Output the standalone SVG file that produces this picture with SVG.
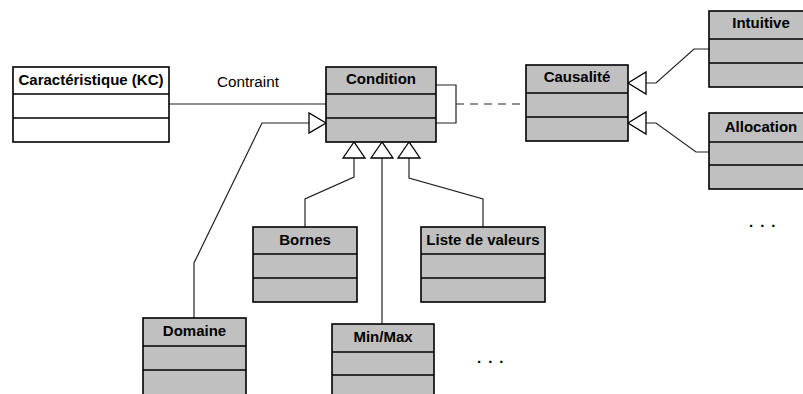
<svg xmlns="http://www.w3.org/2000/svg" width="803" height="394" viewBox="0 0 803 394">
<style>
.box{fill:#C0C0C0;stroke:#000;stroke-width:1.6}
.wbox{fill:#fff;stroke:#000;stroke-width:1.6}
.sep{stroke:#000;stroke-width:1.6}
.t{font-family:"Liberation Sans",Arial,sans-serif;font-weight:bold;font-size:15px;fill:#000;text-anchor:middle}
.lbl{font-family:"Liberation Sans",Arial,sans-serif;font-size:14px;fill:#000}
.dots{font-family:"Liberation Sans",Arial,sans-serif;font-weight:bold;font-size:15px;fill:#000;letter-spacing:7px}
.c{fill:none;stroke:#222;stroke-width:1.2}
.tri{fill:#fff;stroke:#000;stroke-width:1.3}
</style>
<rect width="803" height="394" fill="#fff"/>
<g id="connectors">
<polyline class="c" points="169,104 326,104"/>
<polyline class="c" points="436,85 456,85 456,123 436,123"/>
<line class="c" x1="456" y1="104" x2="526" y2="104" stroke-dasharray="8,6"/>
<polyline class="c" points="646,83 656,83 694,49 709,49"/>
<polygon class="tri" points="628,83 646,72 646,94"/>
<polyline class="c" points="646,123 656,123 696,152 709,152"/>
<polygon class="tri" points="628,123 646,112 646,134"/>
<polyline class="c" points="309,123 262,123 194,263 194,318"/>
<polygon class="tri" points="326,123 309,113 309,133"/>
<polyline class="c" points="354,158 354,177 305,199 305,227"/>
<polygon class="tri" points="354,142 343,158 365,158"/>
<polyline class="c" points="382,158 382,324"/>
<polygon class="tri" points="382,142 371,158 393,158"/>
<polyline class="c" points="409,158 409,178 483,199 483,227"/>
<polygon class="tri" points="409,142 398,158 420,158"/>
<text class="lbl" x="217" y="87" textLength="62" lengthAdjust="spacingAndGlyphs">Contraint</text>
</g>
<g id="kc">
<rect class="wbox" x="13" y="67" width="156" height="75"/>
<line class="sep" x1="13" y1="94" x2="169" y2="94"/>
<line class="sep" x1="13" y1="118" x2="169" y2="118"/>
<text class="t" x="91" y="85">Caractéristique (KC)</text>
</g>
<g id="condition">
<rect class="box" x="326" y="67" width="110" height="75"/>
<line class="sep" x1="326" y1="94" x2="436" y2="94"/>
<line class="sep" x1="326" y1="118" x2="436" y2="118"/>
<text class="t" x="381" y="84">Condition</text>
</g>
<g id="causalite">
<rect class="box" x="526" y="65" width="102" height="76"/>
<line class="sep" x1="526" y1="93" x2="628" y2="93"/>
<line class="sep" x1="526" y1="117" x2="628" y2="117"/>
<text class="t" x="577" y="82">Causalité</text>
</g>
<g id="intuitive">
<rect class="box" x="709" y="11" width="104" height="76"/>
<line class="sep" x1="709" y1="39" x2="813" y2="39"/>
<line class="sep" x1="709" y1="63" x2="813" y2="63"/>
<text class="t" x="761" y="28">Intuitive</text>
</g>
<g id="allocation">
<rect class="box" x="709" y="113" width="104" height="76"/>
<line class="sep" x1="709" y1="142" x2="813" y2="142"/>
<line class="sep" x1="709" y1="165" x2="813" y2="165"/>
<text class="t" x="761" y="132">Allocation</text>
</g>
<g id="bornes">
<rect class="box" x="253" y="227" width="104" height="75"/>
<line class="sep" x1="253" y1="254" x2="357" y2="254"/>
<line class="sep" x1="253" y1="278" x2="357" y2="278"/>
<text class="t" x="305" y="245">Bornes</text>
</g>
<g id="liste">
<rect class="box" x="421" y="227" width="124" height="75"/>
<line class="sep" x1="421" y1="254" x2="545" y2="254"/>
<line class="sep" x1="421" y1="278" x2="545" y2="278"/>
<text class="t" x="483" y="245">Liste de valeurs</text>
</g>
<g id="domaine">
<rect class="box" x="143" y="318" width="103" height="78"/>
<line class="sep" x1="143" y1="346" x2="246" y2="346"/>
<line class="sep" x1="143" y1="370" x2="246" y2="370"/>
<text class="t" x="194.5" y="336">Domaine</text>
</g>
<g id="minmax">
<rect class="box" x="332" y="324" width="102" height="78"/>
<line class="sep" x1="332" y1="352" x2="434" y2="352"/>
<line class="sep" x1="332" y1="375" x2="434" y2="375"/>
<text class="t" x="383" y="342">Min/Max</text>
</g>
<g id="ellipsis">
<text class="dots" x="749" y="227">...</text>
<text class="dots" x="477" y="363">...</text>
</g>
</svg>
